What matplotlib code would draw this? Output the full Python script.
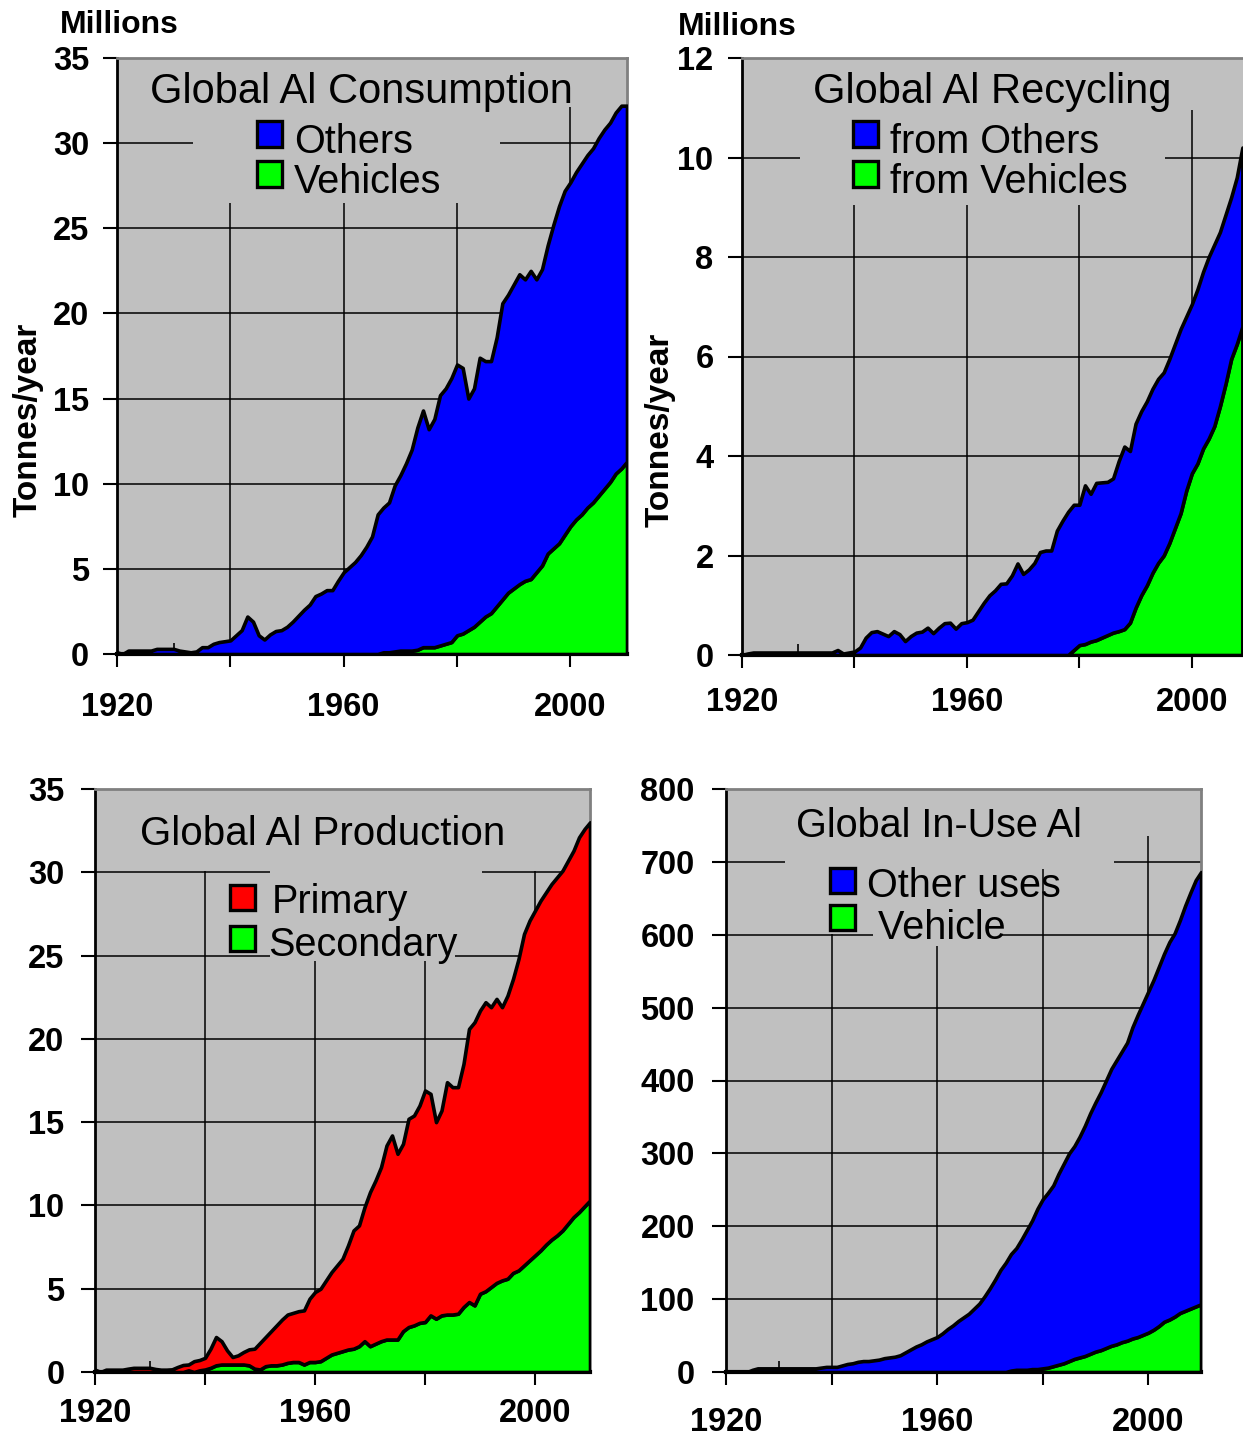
import matplotlib
matplotlib.use("Agg")
import matplotlib.pyplot as plt
from matplotlib.patches import Rectangle
from matplotlib.ticker import MultipleLocator

plt.rcParams['font.family'] = ['Liberation Sans', 'DejaVu Sans']

W, H = 1243, 1437
BG = '#c0c0c0'
BLUE = '#0000ff'
GREEN = '#00ff00'
RED = '#ff0000'

years = list(range(1920, 2011))          # 1920..2010
years_rec = list(range(1920, 2010))      # 1920..2009

# Global Al consumption (million t/yr): total and vehicles
cons_total = [
    0.1, 0.0, 0.2, 0.2, 0.2, 0.2, 0.2, 0.3, 0.3, 0.3,
    0.3, 0.2, 0.15, 0.1, 0.15, 0.4, 0.4, 0.6, 0.7, 0.75,
    0.8, 1.1, 1.4, 2.2, 1.9, 1.1, 0.85, 1.15, 1.35, 1.4,
    1.6, 1.9, 2.25, 2.6, 2.9, 3.4, 3.55, 3.75, 3.75, 4.3,
    4.8, 5.1, 5.4, 5.8, 6.3, 6.9, 8.2, 8.6, 8.9, 9.9,
    10.5, 11.2, 12.0, 13.3, 14.3, 13.2, 13.8, 15.2, 15.6, 16.2,
    17.0, 16.8, 15.0, 15.6, 17.4, 17.2, 17.2, 18.6, 20.6, 21.1,
    21.7, 22.3, 22.0, 22.5, 22.0, 22.6, 24.0, 25.2, 26.3, 27.2,
    27.7, 28.3, 28.8, 29.3, 29.7, 30.3, 30.8, 31.2, 31.8, 32.2,
    32.2]
cons_vehicles = [
    0, 0, 0, 0, 0, 0, 0, 0, 0, 0,
    0, 0, 0, 0, 0, 0, 0, 0, 0, 0,
    0, 0, 0, 0, 0, 0, 0, 0, 0, 0,
    0, 0, 0, 0, 0, 0, 0, 0, 0, 0,
    0, 0, 0, 0, 0, 0, 0, 0.1, 0.1, 0.15,
    0.2, 0.2, 0.2, 0.25, 0.4, 0.4, 0.4, 0.5, 0.6, 0.7,
    1.1, 1.2, 1.4, 1.6, 1.9, 2.2, 2.4, 2.8, 3.2, 3.6,
    3.85, 4.1, 4.3, 4.4, 4.8, 5.2, 5.9, 6.2, 6.5, 7.0,
    7.5, 7.9, 8.2, 8.6, 8.9, 9.3, 9.7, 10.1, 10.6, 10.9,
    11.3]

# Global Al recycling: total and from vehicles (1920..2009)
rec_total = [
    0.0, 0.03, 0.05, 0.05, 0.05, 0.05, 0.05, 0.05, 0.05, 0.05,
    0.05, 0.05, 0.05, 0.05, 0.05, 0.05, 0.05, 0.1, 0.03, 0.05,
    0.07, 0.15, 0.35, 0.46, 0.48, 0.43, 0.38, 0.48, 0.42, 0.28,
    0.38, 0.45, 0.47, 0.55, 0.44, 0.55, 0.64, 0.65, 0.53, 0.64,
    0.66, 0.71, 0.88, 1.05, 1.2, 1.3, 1.43, 1.44, 1.6, 1.84,
    1.63, 1.72, 1.85, 2.07, 2.1, 2.1, 2.5, 2.7, 2.88, 3.02,
    3.02, 3.41, 3.24, 3.46, 3.47, 3.48, 3.55, 3.9, 4.19, 4.1,
    4.65, 4.9, 5.1, 5.35, 5.55, 5.68, 5.95, 6.25, 6.55, 6.8,
    7.05, 7.35, 7.7, 8.0, 8.25, 8.5, 8.85, 9.2, 9.6, 10.2]
rec_vehicles = [
    0, 0, 0, 0, 0, 0, 0, 0, 0, 0,
    0, 0, 0, 0, 0, 0, 0, 0, 0, 0,
    0, 0, 0, 0, 0, 0, 0, 0, 0, 0,
    0, 0, 0, 0, 0, 0, 0, 0, 0, 0,
    0, 0, 0, 0, 0, 0, 0, 0, 0, 0,
    0, 0, 0, 0, 0, 0, 0, 0, 0, 0.1,
    0.2, 0.22, 0.27, 0.3, 0.35, 0.4, 0.45, 0.48, 0.52, 0.65,
    0.95, 1.2, 1.4, 1.65, 1.85, 2.0, 2.25, 2.55, 2.85, 3.3,
    3.65, 3.85, 4.15, 4.35, 4.6, 5.0, 5.45, 5.95, 6.25, 6.6]

# Global Al production: total and secondary
prod_total = [
    0.14, 0.0, 0.14, 0.14, 0.14, 0.14, 0.2, 0.25, 0.25, 0.25,
    0.25, 0.18, 0.14, 0.14, 0.16, 0.3, 0.42, 0.45, 0.65, 0.72,
    0.85, 1.4, 2.1, 1.85, 1.3, 0.9, 1.0, 1.2, 1.36, 1.4,
    1.75, 2.1, 2.45, 2.8, 3.15, 3.45, 3.55, 3.65, 3.7, 4.4,
    4.8, 5.0, 5.5, 6.0, 6.4, 6.8, 7.6, 8.5, 8.8, 9.9,
    10.8, 11.5, 12.3, 13.6, 14.2, 13.1, 13.7, 15.2, 15.4, 16.0,
    16.9, 16.7, 15.0, 15.7, 17.4, 17.1, 17.1, 18.5, 20.6, 21.0,
    21.7, 22.2, 21.9, 22.4, 21.9, 22.6, 23.6, 24.8, 26.3, 27.1,
    27.7, 28.3, 28.8, 29.3, 29.7, 30.1, 30.7, 31.3, 32.1, 32.6,
    33.0]
prod_secondary = [
    0, 0, 0, 0, 0, 0, 0, 0, 0, 0,
    0, 0, 0, 0, 0, 0, 0, 0.1, 0, 0.1,
    0.15, 0.25, 0.4, 0.45, 0.45, 0.45, 0.45, 0.45, 0.4, 0.2,
    0.15, 0.35, 0.4, 0.4, 0.45, 0.55, 0.6, 0.6, 0.45, 0.6,
    0.6, 0.65, 0.85, 1.05, 1.15, 1.25, 1.35, 1.4, 1.55, 1.85,
    1.55, 1.7, 1.85, 1.95, 1.95, 1.95, 2.45, 2.7, 2.8, 2.95,
    3.0, 3.4, 3.2, 3.4, 3.45, 3.45, 3.5, 3.9, 4.2, 4.0,
    4.7, 4.85, 5.1, 5.35, 5.5, 5.6, 5.95, 6.1, 6.4, 6.7,
    7.0, 7.3, 7.65, 7.95, 8.2, 8.5, 8.9, 9.3, 9.6, 9.95,
    10.3]

# Global in-use Al stock (million t): total and vehicle
inuse_total = [
    0, 0, 0, 0, 0, 3, 5, 5, 5, 5,
    5, 5, 5, 5, 5, 5, 5, 5, 6, 7,
    7, 7, 9, 11, 12, 14, 15, 15, 16, 17,
    19, 20, 21, 23, 27, 31, 35, 38, 42, 45,
    48, 53, 59, 64, 70, 75, 80, 87, 94, 104,
    115, 127, 140, 150, 162, 170, 182, 195, 208, 224,
    237, 246, 256, 272, 286, 300, 310, 323, 338, 355,
    370, 384, 400, 416, 428, 440, 452, 473, 490, 506,
    522, 538, 556, 574, 590, 602, 620, 640, 658, 675,
    686]
inuse_vehicle = [
    0, 0, 0, 0, 0, 0, 0, 0, 0, 0,
    0, 0, 0, 0, 0, 0, 0, 0, 0, 0,
    0, 0, 0, 0, 0, 0, 0, 0, 0, 0,
    0, 0, 0, 0, 0, 0, 0, 0, 0, 0,
    0, 0, 0, 0, 0, 0, 0, 0, 0, 0,
    0, 0, 0, 0, 2, 3, 3, 3, 4, 4,
    5, 6, 8, 10, 12, 15, 18, 20, 22, 25,
    28, 30, 33, 36, 38, 41, 43, 46, 48, 51,
    54, 58, 63, 69, 72, 76, 81, 84, 87, 90,
    93]

x_major = [1920, 1940, 1960, 1980, 2000]
x_labels = ['1920', '', '1960', '', '2000']
x_minor = [1930, 1950, 1970, 1990]


def fx(x):
    return x / W


def fy(y):
    return 1 - y / H


def px_axes(left, top, right, bottom):
    return [left / W, 1 - bottom / H, (right - left) / W, (bottom - top) / H]


def panel(fig, rect, x, lower, total, c_low, c_up, ytop, ystep, masks, xpad, ypad):
    ax = fig.add_axes(rect)
    ax.set_facecolor(BG)
    ax.set_xlim(1920, 2010)
    ax.set_ylim(0, ytop)
    ax.yaxis.set_major_locator(MultipleLocator(ystep))
    ax.set_xticks(x_major)
    ax.set_xticklabels(x_labels)
    ax.set_xticks(x_minor, minor=True)
    ax.set_axisbelow(True)
    ax.grid(True, which='major', color='black', lw=1.1)

    # gray boxes hiding grid lines behind title and legend
    for x0, x1, y0, y1 in masks:
        ax.add_patch(Rectangle((x0, y0), x1 - x0, y1 - y0, facecolor=BG,
                               edgecolor='none', zorder=1))

    ax.fill_between(x, 0, lower, facecolor=c_low, edgecolor='black', lw=2.6, zorder=3)
    ax.fill_between(x, lower, total, facecolor=c_up, edgecolor='black', lw=2.6, zorder=3)

    ax.tick_params(axis='x', which='major', direction='out', length=9, width=1.5,
                   pad=xpad, labelsize=23.5)
    ax.tick_params(axis='x', which='minor', direction='in', length=8, width=1.2)
    ax.tick_params(axis='y', direction='out', length=10, width=1.5, pad=ypad, labelsize=23.5)
    for lab in ax.get_xticklabels() + ax.get_yticklabels():
        lab.set_fontweight('bold')

    ax.spines['left'].set_color('black')
    ax.spines['left'].set_linewidth(2)
    ax.spines['bottom'].set_color('black')
    ax.spines['bottom'].set_linewidth(3)
    for s in ('top', 'right'):
        ax.spines[s].set_color('#808080')
        ax.spines[s].set_linewidth(2)
    return ax


def legend_entry(fig, x0, yc, label, color, tx, ty):
    fig.patches.append(Rectangle((fx(x0), fy(yc + 12.5)), 25 / W, 25 / H,
                                 transform=fig.transFigure, facecolor=color,
                                 edgecolor='black', lw=2.4))
    fig.text(fx(tx), fy(ty + 5), label, fontsize=28.5, ha='left', va='center')


def title(fig, x, y, text, size):
    fig.text(fx(x), fy(y + 4), text, fontsize=size, ha='center', va='center')


def side_labels(fig, mx, my, tx, ty):
    fig.text(fx(mx), fy(my + 3), 'Millions', fontsize=23, fontweight='bold',
             ha='left', va='center')
    fig.text(fx(tx), fy(ty), 'Tonnes/year', fontsize=24, fontweight='bold', rotation=90,
             ha='center', va='center')


fig = plt.figure(figsize=(W / 100, H / 100), dpi=100)

# top left: consumption
panel(fig, px_axes(117, 58, 627, 654), years, cons_vehicles, cons_total, GREEN, BLUE,
      35, 5, [(1933.4, 1987.6, 26.5, 35), (1920, 2010, 32.1, 35)], 18, 10)
title(fig, 361, 88, 'Global Al Consumption', 30)
legend_entry(fig, 257, 134, 'Others', BLUE, 294, 137)
legend_entry(fig, 257, 174, 'Vehicles', GREEN, 294, 177)
side_labels(fig, 60, 22, 28, 420)

# top right: recycling
panel(fig, px_axes(742, 58, 1248, 655), years_rec, rec_vehicles, rec_total, GREEN, BLUE,
      12, 2, [(1930.3, 1995.3, 9.05, 12), (1920, 2010, 10.95, 12)], 14, 10.5)
title(fig, 992, 88, 'Global Al Recycling', 30)
legend_entry(fig, 853, 134, 'from Others', BLUE, 890, 137)
legend_entry(fig, 853, 174, 'from Vehicles', GREEN, 890, 177)
side_labels(fig, 678, 24, 660, 430)

# bottom left: production
panel(fig, px_axes(95, 789, 590, 1372), years, prod_secondary, prod_total, GREEN, RED,
      35, 5, [(1920, 2010, 30.05, 35), (1951.8, 1985.5, 24.7, 30.05),
              (1985.5, 1990.3, 25.15, 30.05)], 10, 12)
title(fig, 323, 830, 'Global Al Production', 29)
legend_entry(fig, 230, 897, 'Primary', RED, 272, 897)
legend_entry(fig, 230, 938, 'Secondary', GREEN, 268, 940)

# bottom right: in-use stock
panel(fig, px_axes(726, 789, 1201, 1372), years, inuse_vehicle, inuse_total, GREEN, BLUE,
      800, 100, [(1920, 2010, 735, 800), (1931.2, 1993.5, 690, 735),
                 (1931.2, 1947.8, 601, 735), (1947.8, 1971.9, 585, 735)], 16, 12.5)
title(fig, 939, 822, 'Global In-Use Al', 28.5)
legend_entry(fig, 830, 880, 'Other uses', BLUE, 867, 881)
legend_entry(fig, 830, 917, ' Vehicle', GREEN, 867, 923)

fig.savefig('out.png', dpi=100)
